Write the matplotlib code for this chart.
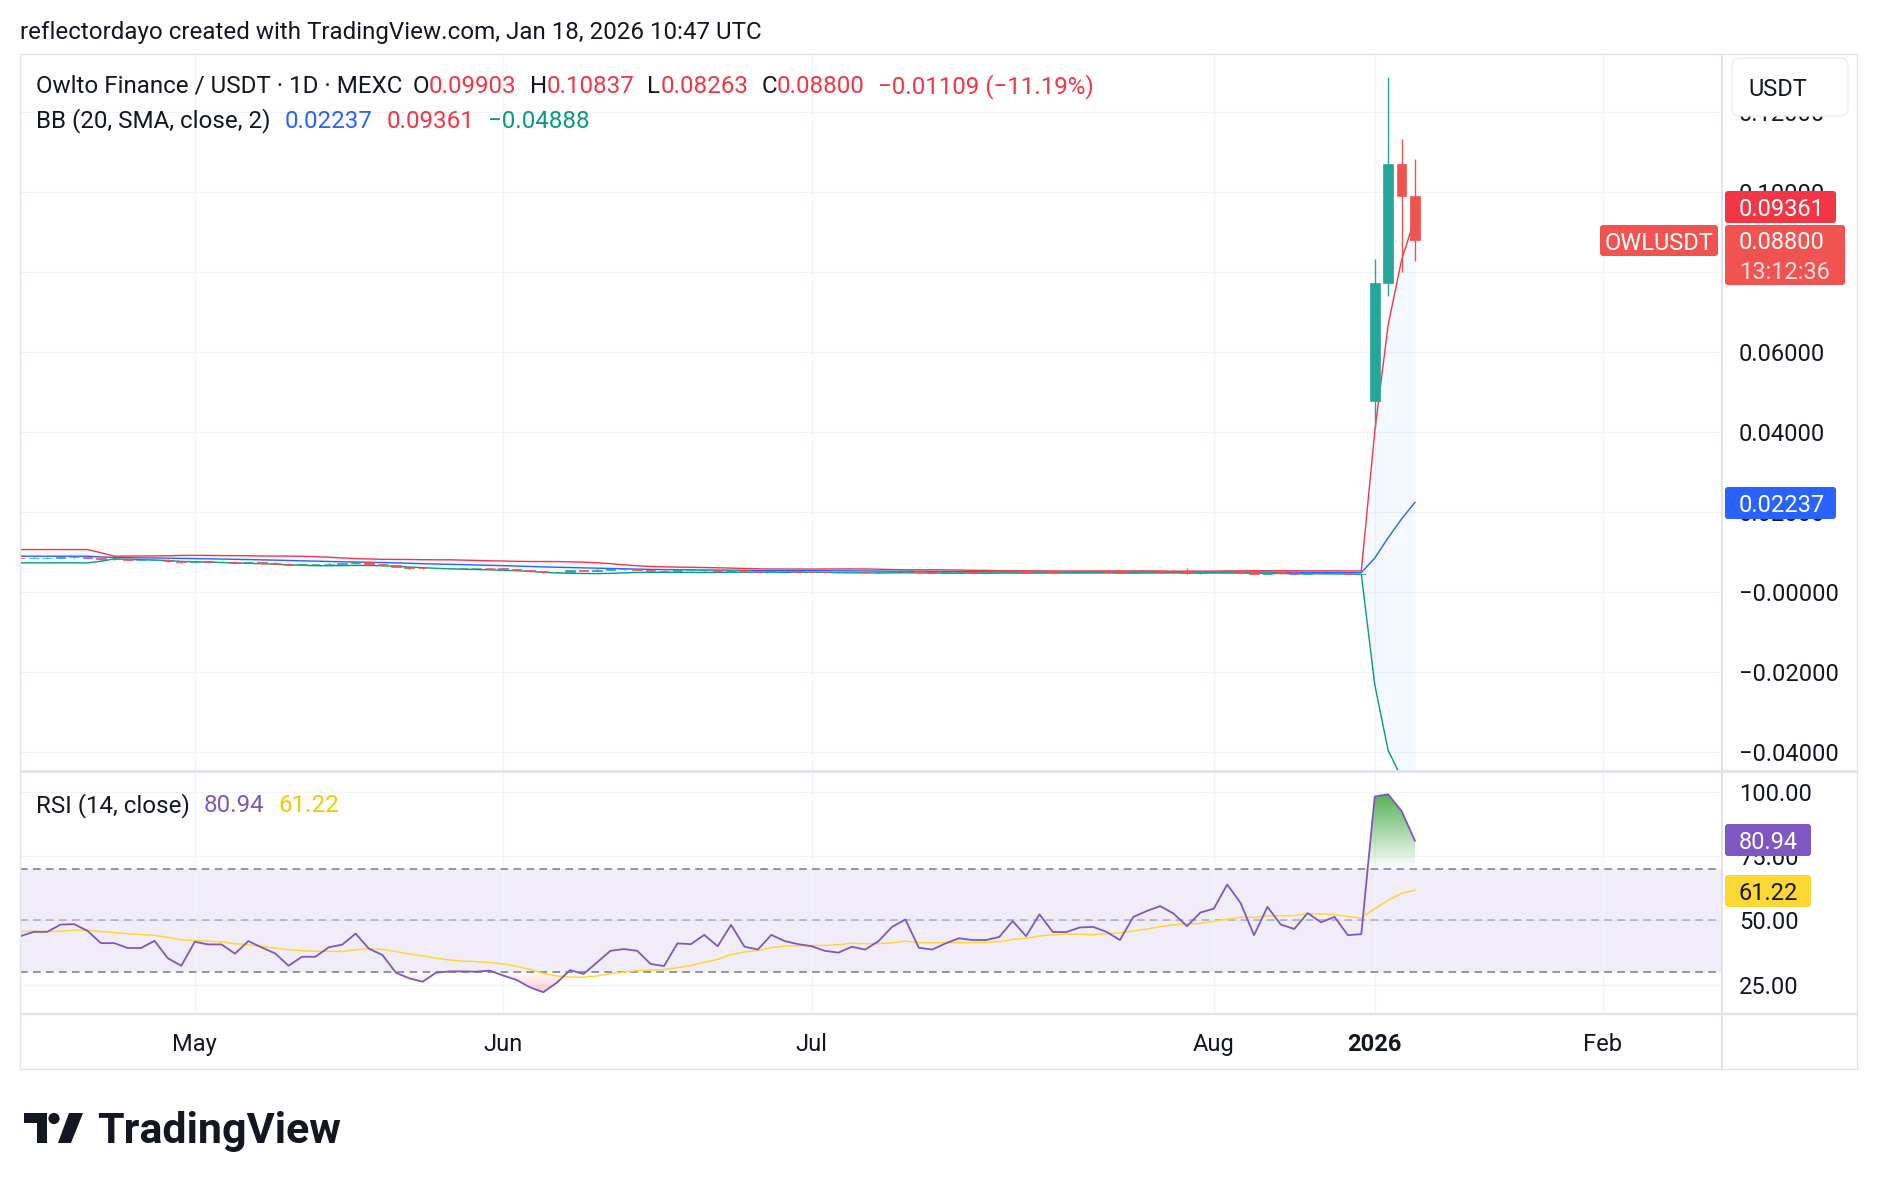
"""TradingView-style snapshot: OWL/USDT daily candles with Bollinger Bands and an RSI pane."""
import matplotlib

matplotlib.use("Agg")

import matplotlib.pyplot as plt  # noqa: E402
import numpy as np  # noqa: E402
import pandas as pd  # noqa: E402
from matplotlib.colors import to_rgb  # noqa: E402
from matplotlib.patches import Circle, FancyBboxPatch, Polygon, Rectangle  # noqa: E402

W, H = 1878, 1190

# ---- data -------------------------------------------------------------------------
# closes of the bars left of the visible window (only used to warm up the 20-bar BB)
WARMUP_CLOSES = [0.0086, 0.0087, 0.0085, 0.0088, 0.0087, 0.0118, 0.0110, 0.0089, 0.0087, 0.0086,
                 0.0088, 0.0087, 0.0086, 0.0087, 0.0088, 0.0087, 0.0086, 0.0087, 0.0086]

OPENS = [0.0086, 0.0085, 0.0086, 0.0086, 0.0087, 0.0087, 0.0085, 0.0082, 0.0082, 0.0080,
         0.0080, 0.0081, 0.0077, 0.0074, 0.0077, 0.0076, 0.0076, 0.0073, 0.0075, 0.0073,
         0.0071, 0.0068, 0.0069, 0.0069, 0.0071, 0.0072, 0.0074, 0.0070, 0.0067, 0.0063,
         0.0061, 0.0059, 0.0060, 0.0060, 0.0060, 0.0060, 0.0059, 0.0057, 0.0055, 0.0052,
         0.0049, 0.0051, 0.0054, 0.0053, 0.0055, 0.0057, 0.0057, 0.0056, 0.0053, 0.0052,
         0.0054, 0.0054, 0.0055, 0.0053, 0.0055, 0.0052, 0.0051, 0.0053, 0.0052, 0.0051,
         0.0050, 0.0049, 0.0049, 0.0050, 0.0049, 0.0050, 0.0052, 0.0053, 0.0049, 0.0048,
         0.0049, 0.0050, 0.0049, 0.0049, 0.0050, 0.0052, 0.0049, 0.0052, 0.0050, 0.0050,
         0.0051, 0.0051, 0.0050, 0.0048, 0.0050, 0.0051, 0.0050, 0.0049, 0.0047, 0.0049,
         0.0050, 0.0053, 0.0051, 0.0046, 0.0049, 0.0047, 0.0046, 0.0048, 0.0047, 0.0048,
         0.0045,
         0.0477, 0.0772, 0.1069, 0.09903]
HIGHS = [0.0087, 0.0087, 0.0087, 0.0088, 0.0088, 0.0088, 0.0086, 0.0083, 0.0083, 0.0081,
         0.0082, 0.0082, 0.0078, 0.0078, 0.0078, 0.0077, 0.0077, 0.0076, 0.0076, 0.0074,
         0.0072, 0.0070, 0.0070, 0.0072, 0.0073, 0.0075, 0.0075, 0.0071, 0.0068, 0.0064,
         0.0062, 0.0061, 0.0061, 0.0061, 0.0061, 0.0061, 0.0060, 0.0058, 0.0056, 0.0053,
         0.0052, 0.0055, 0.0055, 0.0057, 0.0058, 0.0058, 0.0058, 0.0057, 0.0054, 0.0055,
         0.0055, 0.0056, 0.0056, 0.0056, 0.0056, 0.0053, 0.0054, 0.0054, 0.0053, 0.0052,
         0.0051, 0.0050, 0.0051, 0.0051, 0.0051, 0.0053, 0.0054, 0.0054, 0.0050, 0.0050,
         0.0051, 0.0051, 0.0050, 0.0051, 0.0053, 0.0053, 0.0053, 0.0053, 0.0051, 0.0052,
         0.0052, 0.0052, 0.0051, 0.0051, 0.0052, 0.0052, 0.0051, 0.0059, 0.0050, 0.0051,
         0.0055, 0.0054, 0.0052, 0.0050, 0.0050, 0.0048, 0.0049, 0.0049, 0.0049, 0.0049,
         0.0046,
         0.0832, 0.1288, 0.1132, 0.10837]
LOWS = [0.0084, 0.0084, 0.0085, 0.0085, 0.0086, 0.0084, 0.0079, 0.0081, 0.0079, 0.0079,
        0.0079, 0.0076, 0.0073, 0.0073, 0.0075, 0.0075, 0.0072, 0.0072, 0.0070, 0.0070,
        0.0067, 0.0067, 0.0068, 0.0068, 0.0070, 0.0071, 0.0069, 0.0066, 0.0062, 0.0058,
        0.0058, 0.0058, 0.0059, 0.0059, 0.0059, 0.0058, 0.0056, 0.0054, 0.0051, 0.0048,
        0.0048, 0.0050, 0.0052, 0.0052, 0.0054, 0.0056, 0.0055, 0.0052, 0.0051, 0.0051,
        0.0053, 0.0053, 0.0052, 0.0052, 0.0051, 0.0050, 0.0050, 0.0051, 0.0050, 0.0049,
        0.0048, 0.0048, 0.0048, 0.0048, 0.0048, 0.0049, 0.0051, 0.0048, 0.0047, 0.0047,
        0.0048, 0.0048, 0.0048, 0.0048, 0.0049, 0.0048, 0.0048, 0.0049, 0.0049, 0.0049,
        0.0050, 0.0049, 0.0047, 0.0047, 0.0049, 0.0049, 0.0048, 0.0046, 0.0046, 0.0048,
        0.0049, 0.0050, 0.0045, 0.0045, 0.0046, 0.0045, 0.0045, 0.0046, 0.0046, 0.0044,
        0.0044,
        0.0411, 0.0739, 0.0799, 0.08263]
CLOSES = [0.0085, 0.0086, 0.0086, 0.0087, 0.0087, 0.0085, 0.0082, 0.0082, 0.0080, 0.0080,
          0.0081, 0.0077, 0.0074, 0.0077, 0.0076, 0.0076, 0.0073, 0.0075, 0.0073, 0.0071,
          0.0068, 0.0069, 0.0069, 0.0071, 0.0072, 0.0074, 0.0070, 0.0067, 0.0063, 0.0061,
          0.0059, 0.0060, 0.0060, 0.0060, 0.0060, 0.0059, 0.0057, 0.0055, 0.0052, 0.0049,
          0.0051, 0.0054, 0.0053, 0.0055, 0.0057, 0.0057, 0.0056, 0.0053, 0.0052, 0.0054,
          0.0054, 0.0055, 0.0053, 0.0055, 0.0052, 0.0051, 0.0053, 0.0052, 0.0051, 0.0050,
          0.0049, 0.0049, 0.0050, 0.0049, 0.0050, 0.0052, 0.0053, 0.0049, 0.0048, 0.0049,
          0.0050, 0.0049, 0.0049, 0.0050, 0.0052, 0.0049, 0.0052, 0.0050, 0.0050, 0.0051,
          0.0051, 0.0050, 0.0048, 0.0050, 0.0051, 0.0050, 0.0049, 0.0047, 0.0049, 0.0050,
          0.0053, 0.0051, 0.0046, 0.0049, 0.0047, 0.0046, 0.0048, 0.0047, 0.0048, 0.0045,
          0.0045,
          0.0772, 0.1069, 0.0990, 0.0880]

# RSI(14) per bar, plus a few values left of the window to warm up its 14-bar MA
RSI_WARMUP = [46, 47, 45, 44, 46, 48, 47, 45, 44, 46, 47, 45, 46]
RSI = [43.8, 45.5, 45.5, 48.3, 48.5, 45.9, 41.1, 41.1, 39.2, 39.2,
       42.0, 35.2, 32.3, 41.6, 40.6, 40.6, 37.0, 41.9, 39.4, 37.1,
       32.3, 35.8, 35.8, 39.5, 40.5, 44.8, 38.9, 36.5, 29.6, 27.4,
       26.1, 29.6, 30.1, 30.1, 30.0, 30.4, 28.5, 26.8, 23.9, 22.0,
       25.7, 30.6, 29.1, 33.6, 38.1, 38.8, 38.1, 33.0, 32.2, 41.0,
       40.7, 44.3, 39.9, 48.2, 39.7, 38.6, 44.3, 41.9, 40.7, 39.9,
       38.1, 37.4, 39.7, 38.6, 41.9, 47.4, 50.3, 39.3, 38.6, 41.0,
       43.0, 42.3, 42.3, 43.5, 49.7, 43.8, 52.3, 45.4, 45.4, 47.2,
       47.4, 45.5, 42.3, 51.3, 53.6, 55.5, 52.6, 47.7, 53.0, 54.5,
       63.9, 56.7, 44.2, 55.2, 48.3, 46.6, 52.8, 49.2, 51.3, 44.2,
       44.6,
       98.1, 99.0, 92.5, 80.94]

TIME_TICKS = [13, 36, 59, 89, 101, 118]  # bar index of each label
TIME_LABELS = ["May", "Jun", "Jul", "Aug", "2026", "Feb"]
PRICE_TICKS = [0.12, 0.10, 0.08, 0.06, 0.04, 0.02, 0.0, -0.02, -0.04]
PRICE_LABELS = ["0.12000", "0.10000", "0.08000", "0.06000", "0.04000", "0.02000",
                "\u22120.00000", "\u22120.02000", "\u22120.04000"]
RSI_TICKS = [100, 75, 50, 25]
RSI_LABELS = ["100.00", "75.00", "50.00", "25.00"]

OHLC_LAST = ["0.09903", "0.10837", "0.08263", "0.08800"]
CHANGE_LAST = "\u22120.01109 (\u221211.19%)"
BB_LAST = ["0.02237", "0.09361", "\u22120.04888"]
RSI_LAST = ["80.94", "61.22"]
COUNTDOWN = "13:12:36"

# ---- style ----------------------------------------------------------------------
DARK = "#131722"
UP, DOWN = "#26a69a", "#ef5350"
RED, BLUE, TEAL = "#f23645", "#2962ff", "#089981"
PURPLE, YELLOW = "#7e57c2", "#fdd835"
GRID, FRAME = "#f0f3fa", "#e0e3eb"
FS_HEAD, FS = 17.4, 17.0
DY = 2.5  # Roboto sits a bit high with va="center"

plt.rcParams["font.family"] = ["Roboto", "DejaVu Sans"]

# pixel layout of the panes
PLOT_L, PLOT_R, FRAME_R = 20, 1722, 1857
PRICE_T, PRICE_B, RSI_B, AXIS_B = 54, 771, 1014, 1069
ZERO_Y, PX_PER_UNIT = 592, 4000          # price pane: pixel row of 0 and px per 1.0
RSI100_Y, PX_PER_RSI = 791.7, 2.571      # rsi pane: pixel row of 100 and px per point
X_MIN, X_MAX = -0.03, 126.9


def rect(l, t, r, b):
    return [l / W, 1 - b / H, (r - l) / W, (b - t) / H]


fig = plt.figure(figsize=(W / 100, H / 100), dpi=100)
fig.patch.set_facecolor("white")
ax = fig.add_axes(rect(PLOT_L, PRICE_T, PLOT_R, PRICE_B))
ax_r = fig.add_axes(rect(PLOT_L, PRICE_B, PLOT_R, RSI_B))
for a in (ax, ax_r):
    a.set_facecolor("none")
    a.set_xticks([])
    a.set_yticks([])
    for sp in a.spines.values():
        sp.set_visible(False)

x = np.arange(len(CLOSES))
o, hi, lo, c = (np.array(v) for v in (OPENS, HIGHS, LOWS, CLOSES))

# ---- price pane -------------------------------------------------------------------
for p in PRICE_TICKS:
    ax.axhline(p, color=GRID, lw=1.0, zorder=0)
for t in TIME_TICKS:
    ax.axvline(t, color=GRID, lw=1.0, zorder=0)
    ax_r.axvline(t, color=GRID, lw=1.0, zorder=0.8)

closes_all = pd.Series(WARMUP_CLOSES + CLOSES)
n_w = len(WARMUP_CLOSES)
basis = closes_all.rolling(20).mean().to_numpy()[n_w:]
dev = closes_all.rolling(20).std(ddof=0).to_numpy()[n_w:]
upper, lower = basis + 2 * dev, basis - 2 * dev

ax.fill_between(x, lower, upper, color="#2196f3", alpha=0.05, lw=0, zorder=1)
ax.plot(x, basis, color=BLUE, lw=1.0, zorder=2)
ax.plot(x, upper, color=RED, lw=1.0, zorder=2)
ax.plot(x, lower, color=TEAL, lw=1.0, zorder=2)

colors = np.where(c >= o, UP, DOWN)
ax.vlines(x, lo, hi, colors=colors, lw=1.0, zorder=3)
ax.bar(x, c - o, bottom=o, width=0.72, color=colors, edgecolor=colors, linewidth=0.5, zorder=4)

ax.set_xlim(X_MIN, X_MAX)
ax.set_ylim((ZERO_Y - PRICE_B) / PX_PER_UNIT, (ZERO_Y - PRICE_T) / PX_PER_UNIT)

# ---- rsi pane ---------------------------------------------------------------------
rsi = np.array(RSI)
rsi_ma = pd.Series(RSI_WARMUP + RSI).rolling(14).mean().to_numpy()[len(RSI_WARMUP):]

for v in RSI_TICKS:
    ax_r.axhline(v, color=GRID, lw=1.0, zorder=0)
ax_r.axhspan(30, 70, color=PURPLE, alpha=0.1, lw=0, zorder=0.5)
ax_r.axhline(70, color="#787b86", lw=1.1, dashes=(5, 3.5), zorder=1)
ax_r.axhline(50, color="#787b86", alpha=0.55, lw=1.1, dashes=(5, 3.5), zorder=1)
ax_r.axhline(30, color="#787b86", lw=1.1, dashes=(5, 3.5), zorder=1)


def gradient_fill(level, edge, color, where):
    """Fill between RSI and `level`, fading from opaque at `edge` to clear at `level`."""
    coll = ax_r.fill_between(x, rsi, level, where=where, interpolate=True,
                             facecolor="none", edgecolor="none")
    rgba = np.zeros((256, 1, 4))
    rgba[..., :3] = to_rgb(color)
    ramp = np.linspace(0, 1, 256)
    rgba[:, 0, 3] = ramp if edge > level else ramp[::-1]
    lo_, hi_ = sorted((level, edge))
    for path in coll.get_paths():
        im = ax_r.imshow(rgba, extent=[x[0], x[-1], lo_, hi_], origin="lower",
                         aspect="auto", interpolation="bilinear", zorder=1.5)
        im.set_clip_path(path, transform=ax_r.transData)


gradient_fill(70, 100, "#4caf50", rsi >= 70)
gradient_fill(30, 0, "#f23645", rsi <= 30)

ax_r.plot(x, rsi_ma, color=YELLOW, lw=1.1, zorder=2.5)
ax_r.plot(x, rsi, color=PURPLE, lw=1.3, zorder=3)
ax_r.set_xlim(X_MIN, X_MAX)
ax_r.set_ylim(100 - (RSI_B - RSI100_Y) / PX_PER_RSI, 100 + (RSI100_Y - PRICE_B) / PX_PER_RSI)

# ---- overlay in pixel coordinates ---------------------------------------------------
ov = fig.add_axes([0, 0, 1, 1])
ov.set_xlim(0, W)
ov.set_ylim(H, 0)
ov.axis("off")
renderer = fig.canvas.get_renderer()


def hline(y, x0=PLOT_L, x1=FRAME_R, lw=1.0):
    ov.plot([x0, x1], [y, y], color=FRAME, lw=lw, solid_capstyle="butt")


def vline(xp, y0=PRICE_T, y1=AXIS_B, lw=1.0):
    ov.plot([xp, xp], [y0, y1], color=FRAME, lw=lw, solid_capstyle="butt")


hline(PRICE_T)
hline(AXIS_B)
hline(PRICE_B, lw=2.0)
hline(RSI_B, lw=1.6)
vline(PLOT_L)
vline(PLOT_R, lw=1.4)
vline(FRAME_R)


def label(xp, y, s, color=DARK, size=FS, **kw):
    kw.setdefault("ha", "left")
    return ov.text(xp, y + DY, s, color=color, fontsize=size, va="center", **kw)


def run(xp, y, parts, size=FS_HEAD):
    """Draw coloured text pieces one after the other; parts = (text, color, gap_px)."""
    for s, color, gap in parts:
        t = label(xp, y, s, color, size)
        xp += t.get_window_extent(renderer).width + gap


label(20, 30, "reflectordayo created with TradingView.com, Jan 18, 2026 10:47 UTC", size=FS_HEAD)

run(36, 84, [("Owlto Finance / USDT \u00b7 1D \u00b7 MEXC", DARK, 10),
             ("O", DARK, 0), (OHLC_LAST[0], RED, 13),
             ("H", DARK, 0), (OHLC_LAST[1], RED, 13),
             ("L", DARK, 0), (OHLC_LAST[2], RED, 13),
             ("C", DARK, 0), (OHLC_LAST[3], RED, 13),
             (CHANGE_LAST, RED, 0)])
run(36, 118.5, [("BB (20, SMA, close, 2)", DARK, 14), (BB_LAST[0], BLUE, 14),
                (BB_LAST[1], RED, 14), (BB_LAST[2], TEAL, 0)])
run(36, 803, [("RSI (14, close)", DARK, 14), (RSI_LAST[0], PURPLE, 14), (RSI_LAST[1], "#f7c600", 0)])

# price / rsi scale labels
for p, lab in zip(PRICE_TICKS, PRICE_LABELS):
    label(1739, ZERO_Y - p * PX_PER_UNIT, lab)
for v, lab in zip(RSI_TICKS, RSI_LABELS):
    label(1739, RSI100_Y + (100 - v) * PX_PER_RSI, lab)

# time labels
for t, lab in zip(TIME_TICKS, TIME_LABELS):
    xp = PLOT_L + (t - X_MIN) / (X_MAX - X_MIN) * (PLOT_R - PLOT_L)
    label(xp, 1042, lab, ha="center", fontweight="bold" if lab == "2026" else "normal")


def tag(x0, y0, x1, y1, color, lines, text_colors, ha="left"):
    ov.add_patch(FancyBboxPatch((x0, y0), x1 - x0, y1 - y0,
                                boxstyle="round,pad=0,rounding_size=3",
                                facecolor=color, edgecolor="none", zorder=5))
    n = len(lines)
    for i, (s, tc) in enumerate(zip(lines, text_colors)):
        yy = y0 + (y1 - y0) * (i + 0.5) / n
        xx = (x0 + x1) / 2 if ha == "center" else 1739
        label(xx, yy, s, tc, ha=ha, zorder=6)


# USDT currency box sitting over the top of the scale
ov.add_patch(FancyBboxPatch((1732, 58), 116, 58, boxstyle="round,pad=0,rounding_size=8",
                            facecolor="white", edgecolor="#eceef2", lw=1.0, zorder=5))
label(1748, 87, "USDT", zorder=6)

tag(1725, 191, 1836, 223, RED, [BB_LAST[1]], ["white"])
tag(1725, 225, 1845, 285, "#f05350", [OHLC_LAST[3], COUNTDOWN], ["white", "#fde0df"])
tag(1600, 225, 1718, 256, "#f05350", ["OWLUSDT"], ["white"], ha="center")
tag(1725, 487, 1836, 519, BLUE, [BB_LAST[0]], ["white"])
tag(1725, 824, 1811, 856, PURPLE, [RSI_LAST[0]], ["white"])
tag(1725, 875, 1811, 907, YELLOW, [RSI_LAST[1]], [DARK])

# TradingView logo
ov.add_patch(Rectangle((24, 1113), 23, 10, facecolor=DARK, edgecolor="none"))
ov.add_patch(Rectangle((37, 1113), 10, 30, facecolor=DARK, edgecolor="none"))
ov.add_patch(Circle((54, 1118.5), 5.6, facecolor=DARK, edgecolor="none"))
ov.add_patch(Polygon([(58, 1143), (71, 1143), (83, 1113), (69, 1113)], closed=True,
                     facecolor=DARK, edgecolor="none"))
ov.text(97, 1143, "TradingView", color=DARK, fontsize=31, fontweight="bold",
        ha="left", va="baseline")

fig.savefig("out.png", dpi=100, facecolor="white")
